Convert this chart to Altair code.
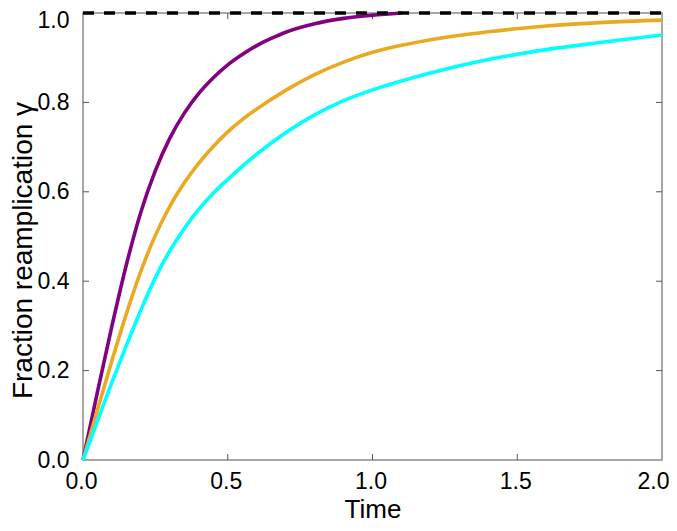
import altair as alt
import pandas as pd

# Data
t_purple = [0, 0.05, 0.1, 0.15, 0.2, 0.25, 0.3, 0.35, 0.4, 0.45, 0.5, 0.55, 0.6, 0.65, 0.7, 0.8, 0.9, 1.0, 1.1]
v_purple = [0, 0.1525, 0.3, 0.4375, 0.555, 0.6475, 0.72, 0.776, 0.82, 0.855, 0.884, 0.907, 0.927, 0.943, 0.957, 0.976, 0.988, 0.995, 1.0]

t_orange = [0, 0.05, 0.1, 0.15, 0.2, 0.25, 0.3, 0.35, 0.4, 0.45, 0.5, 0.55, 0.6, 0.7, 0.8, 0.9, 1.0, 1.2, 1.4, 1.6, 1.8, 2.0]
v_orange = [0, 0.1125, 0.2225, 0.3275, 0.4225, 0.5025, 0.5675, 0.62, 0.664, 0.7015, 0.734, 0.7615, 0.785, 0.827, 0.862, 0.89, 0.912, 0.94, 0.958, 0.971, 0.979, 0.984]

t_cyan = [0, 0.05, 0.1, 0.15, 0.2, 0.25, 0.3, 0.35, 0.4, 0.45, 0.5, 0.6, 0.7, 0.8, 0.9, 1.0, 1.2, 1.4, 1.6, 1.8, 2.0]
v_cyan = [0, 0.0875, 0.1735, 0.2565, 0.3355, 0.408, 0.468, 0.518, 0.5605, 0.5965, 0.6275, 0.684, 0.732, 0.772, 0.804, 0.828, 0.866, 0.896, 0.918, 0.935, 0.951]

t_ref = [0, 2.0]
v_ref = [1.0, 1.0]

x_ticks = [0.0, 0.5, 1.0, 1.5, 2.0]
y_ticks = [0.0, 0.2, 0.4, 0.6, 0.8, 1.0]
x_inner_ticks = [0.5, 1.0, 1.5]
y_inner_ticks = [0.2, 0.4, 0.6, 0.8]

W, H = 579, 447
FONT = "Liberation Sans"

df_p = pd.DataFrame({"t": t_purple, "v": v_purple})
df_o = pd.DataFrame({"t": t_orange, "v": v_orange})
df_c = pd.DataFrame({"t": t_cyan, "v": v_cyan})
df_r = pd.DataFrame({"t": t_ref, "v": v_ref})
df_xt = pd.DataFrame({"t": x_inner_ticks})
df_yt = pd.DataFrame({"v": y_inner_ticks})

xscale = alt.Scale(domain=[0, 2], nice=False, zero=False)
yscale = alt.Scale(domain=[0, 1], nice=False, zero=False)

xaxis = alt.Axis(
    values=x_ticks, format=".1f", title="Time", ticks=False, domain=False, grid=False,
    labelFlush=False, labelPadding=10, labelFontSize=23,
    labelAlign={"condition": {"test": "datum.value == 2", "value": "right"}, "value": "center"},
    labelOffset={"condition": {"test": "datum.value == 2", "value": 7}, "value": -2},
    titleFontSize=26, titleBaseline="alphabetic", titleY=57, titleX=W / 2,
)
yaxis = alt.Axis(
    values=y_ticks, format=".1f", title="Fraction reamplication γ", ticks=False, domain=False,
    grid=False, labelFlush=False, labelPadding=14, labelFontSize=23,
    labelOffset={"condition": {"test": "datum.value == 1", "value": 7}, "value": 0},
    titleFontSize=28, titleAngle=-90, titleBaseline="middle", titleAlign="center",
    titleX=-60, titleY=237,
)

X = alt.X("t:Q", scale=xscale, axis=xaxis)
Y = alt.Y("v:Q", scale=yscale, axis=yaxis)

def curve(df, color):
    return alt.Chart(df).mark_line(color=color, strokeWidth=3.6, interpolate="monotone").encode(x=X, y=Y)

purple = curve(df_p, "#820082")
orange = curve(df_o, "#EBA922")
cyan = curve(df_c, "#00FFFF")
ref = alt.Chart(df_r).mark_line(color="black", strokeWidth=3.5, strokeDash=[11, 10]).encode(x=X, y=Y)

tick_col = "#555555"
xt_bottom = alt.Chart(df_xt).mark_rule(color=tick_col, strokeWidth=1).encode(
    x=X, y=alt.value(H), y2=alt.value(H - 6))
xt_top = alt.Chart(df_xt).mark_rule(color=tick_col, strokeWidth=1).encode(
    x=X, y=alt.value(0), y2=alt.value(6))
yt_left = alt.Chart(df_yt).mark_rule(color=tick_col, strokeWidth=1).encode(
    y=Y, x=alt.value(0), x2=alt.value(6))
yt_right = alt.Chart(df_yt).mark_rule(color=tick_col, strokeWidth=1).encode(
    y=Y, x=alt.value(W), x2=alt.value(W - 6))

chart = alt.layer(xt_bottom, xt_top, yt_left, yt_right, purple, orange, cyan, ref).properties(
    width=W, height=H,
    autosize=alt.AutoSizeParams(type="none"),
    padding={"left": 75, "top": 5, "right": 7, "bottom": 63},
).configure_view(
    stroke="#8a8a8a", strokeWidth=1.5
).configure_axis(
    labelFont=FONT, titleFont=FONT,
    labelColor="black", titleColor="black", titleFontWeight="normal"
)

chart.save("out.html", embed_options={"renderer": "svg", "actions": False})
